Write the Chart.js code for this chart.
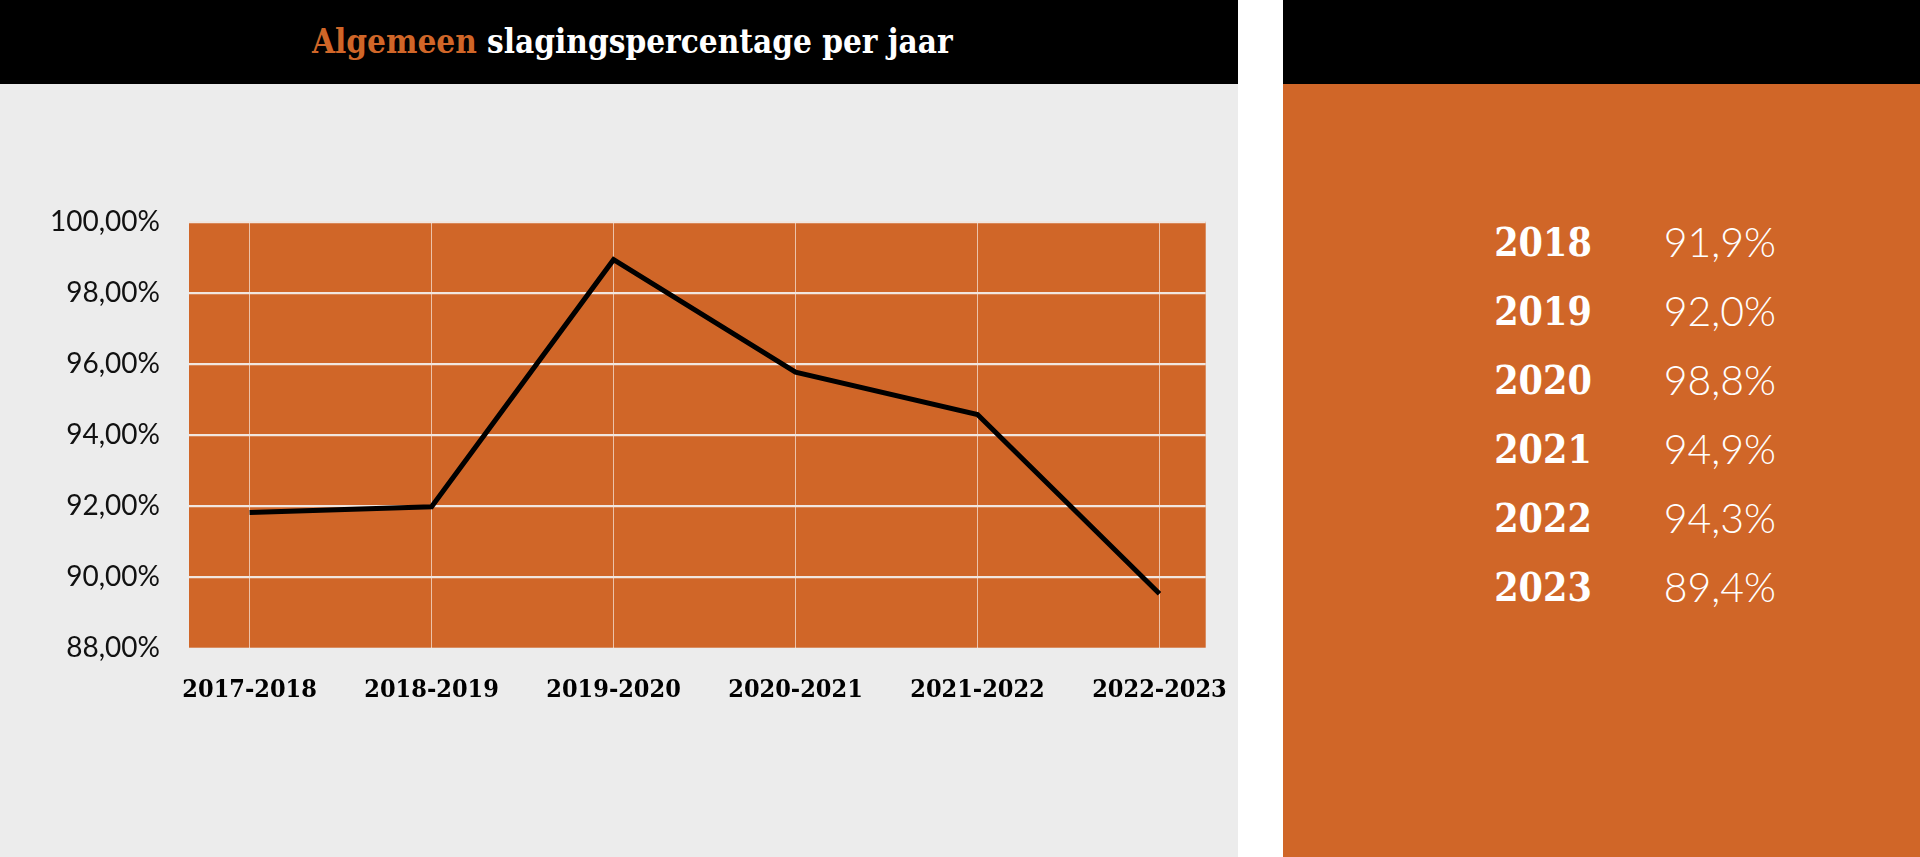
<!DOCTYPE html>
<html>
<head>
<meta charset="utf-8">
<script src="https://cdn.jsdelivr.net/npm/chart.js@4.4.1/dist/chart.umd.min.js"></script>
<style>
  html, body { margin: 0; padding: 0; background: #ffffff; width: 1920px; height: 857px; overflow: hidden; }
  #left { position: absolute; left: 0; top: 0; width: 1238px; height: 857px; background: #ECECEC; }
  #leftHead { position: absolute; left: 0; top: 0; width: 1238px; height: 84px; background: #000; }
  #right { position: absolute; left: 1283px; top: 0; width: 637px; height: 857px; background: #D06628; }
  #rightHead { position: absolute; left: 0; top: 0; width: 637px; height: 84px; background: #000; }
  #title { position: absolute; left: 312px; top: 22px; font-family: "DejaVu Serif Condensed", "DejaVu Serif", serif; font-weight: bold; font-size: 33px; color: #fff; white-space: nowrap; line-height: 40px; }
  #title .hl { color: #D06628; }
  #chartWrap { position: absolute; left: 0; top: 84px; width: 1238px; height: 773px; }
  .yr { position: absolute; width: 200px; text-align: center; font-family: "DejaVu Serif Condensed", "DejaVu Serif", serif; font-weight: bold; font-size: 39px; color: #fff; line-height: 50px; }
  .pc { position: absolute; width: 200px; text-align: right; font-family: "Lato", sans-serif; font-weight: 300; font-size: 41px; color: #fff; line-height: 50px; }
</style>
</head>
<body>
<div id="left"><div id="leftHead"></div>
  <div id="title"><span class="hl">Algemeen</span> slagingspercentage per jaar</div>
  <div id="chartWrap"><canvas id="c" width="1238" height="773"></canvas></div>
</div>
<div id="right"><div id="rightHead"></div><div id="table"></div></div>
<script>
// ---- data ----
const categories = ["2017-2018", "2018-2019", "2019-2020", "2020-2021", "2021-2022", "2022-2023"];
const passRate = [91.81, 91.97, 98.93, 95.76, 94.57, 89.52];
const yTicks = [88, 90, 92, 94, 96, 98, 100];
const tableYears = ["2018", "2019", "2020", "2021", "2022", "2023"];
const tableValues = [91.9, 92.0, 98.8, 94.9, 94.3, 89.4];

// ---- colors ----
const ORANGE = '#D06628';

// ---- side table ----
const table = document.getElementById('table');
tableYears.forEach((y, i) => {
  const top = 242 + 69 * i - 25;
  const a = document.createElement('div');
  a.className = 'yr'; a.textContent = y;
  a.style.left = (1543 - 1283 - 100) + 'px'; a.style.top = top + 'px';
  const b = document.createElement('div');
  b.className = 'pc'; b.textContent = tableValues[i].toFixed(1).replace('.', ',') + '%';
  b.style.left = (1776 - 1283 - 200) + 'px'; b.style.top = top + 'px';
  table.appendChild(a); table.appendChild(b);
});

// ---- chart ----
const plotBg = {
  id: 'plotBg',
  beforeDraw(chart) {
    const { ctx, chartArea: a } = chart;
    ctx.save();
    ctx.fillStyle = ORANGE;
    ctx.fillRect(a.left, a.top, a.right - a.left, a.bottom - a.top);
    ctx.restore();
  }
};

new Chart(document.getElementById('c'), {
  type: 'line',
  data: {
    datasets: [{
      data: passRate.map((v, i) => ({ x: i, y: v })),
      borderColor: '#000',
      borderWidth: 5,
      borderJoinStyle: 'miter',
      pointRadius: 0,
      tension: 0,
      fill: false
    }]
  },
  options: {
    responsive: false,
    animation: false,
    devicePixelRatio: 1,
    layout: { padding: { left: 0, top: 137.7, right: 32.3, bottom: 149.3 } },
    plugins: { legend: { display: false }, tooltip: { enabled: false } },
    scales: {
      x: {
        type: 'linear',
        min: -0.333,
        max: 5.254,
        afterFit(s) { s.height = 60; s.paddingLeft = 0; s.paddingRight = 0; },
        border: { display: false },
        grid: { color: 'rgba(255,255,255,0.6)', lineWidth: 1, drawTicks: false },
        afterBuildTicks(s) { s.ticks = categories.map((c, i) => ({ value: i })); },
        ticks: {
          padding: 28,
          maxRotation: 0,
          autoSkip: false,
          color: '#000',
          font: { family: '"DejaVu Serif Condensed", "DejaVu Serif", serif', weight: 'bold', size: 25 },
          callback: (v) => categories[v]
        }
      },
      y: {
        min: 88,
        max: 100,
        afterFit(s) { s.width = 189; s.paddingTop = 0; s.paddingBottom = 0; },
        afterBuildTicks(s) { s.ticks = yTicks.map(v => ({ value: v })); },
        border: { display: false },
        grid: {
          color: (ctx) => ctx.tick && ctx.tick.value === 88 ? 'rgba(0,0,0,0)' : '#F1E6DF',
          lineWidth: 2.2,
          drawTicks: false
        },
        ticks: {
          padding: 29,
          color: '#111',
          font: { family: 'Lato, sans-serif', size: 28 },
          callback: (v) => v.toFixed(2).replace('.', ',') + '%'
        }
      }
    }
  },
  plugins: [plotBg]
});
</script>
</body>
</html>
